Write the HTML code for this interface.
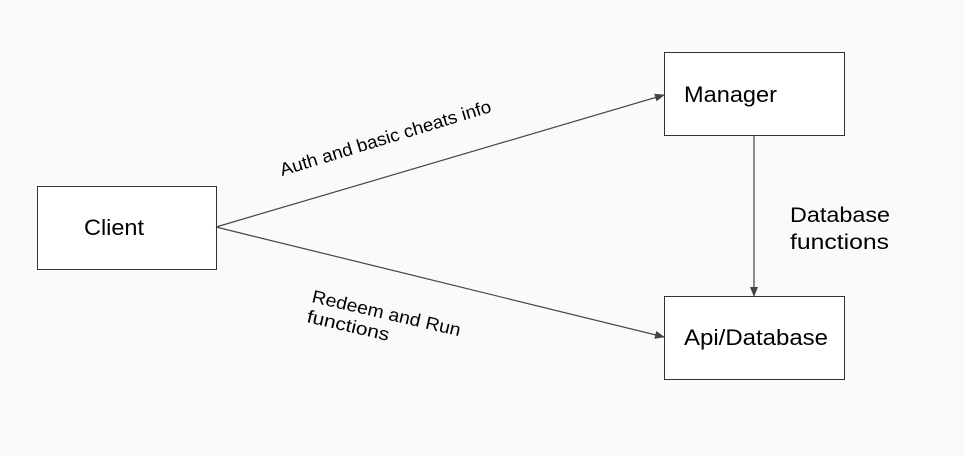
<!DOCTYPE html>
<html><head><style>
html,body{margin:0;padding:0;background:#fafafa;}
svg{display:block;}
text{font-family:"Liberation Sans",sans-serif;fill:#000;}
</style></head><body>
<svg width="964" height="456" viewBox="0 0 964 456" xmlns="http://www.w3.org/2000/svg">
<defs><marker id="a" markerWidth="10" markerHeight="8" refX="9" refY="4" orient="auto" markerUnits="userSpaceOnUse"><path d="M0,0 L10,4 L0,8 z" fill="#444"/></marker></defs>
<rect x="0" y="0" width="964" height="456" fill="#fafafa"/>
<rect x="37.5" y="186.5" width="179" height="83" fill="#fff" stroke="#333"/>
<rect x="664.5" y="52.5" width="180" height="83" fill="#fff" stroke="#333"/>
<rect x="664.5" y="296.5" width="180" height="83" fill="#fff" stroke="#333"/>
<text x="84" y="235" font-size="22" textLength="60" lengthAdjust="spacingAndGlyphs">Client</text>
<text x="684" y="102" font-size="22" textLength="93" lengthAdjust="spacingAndGlyphs">Manager</text>
<text x="684" y="345" font-size="22" textLength="144" lengthAdjust="spacingAndGlyphs">Api/Database</text>
<line x1="216" y1="227" x2="664" y2="95" stroke="#444" stroke-width="1.2" marker-end="url(#a)"/>
<line x1="216" y1="227" x2="664" y2="337" stroke="#444" stroke-width="1.2" marker-end="url(#a)"/>
<line x1="754" y1="135" x2="754" y2="296" stroke="#444" stroke-width="1.2" marker-end="url(#a)"/>
<text x="790" y="222" font-size="21" textLength="100" lengthAdjust="spacingAndGlyphs">Database</text>
<text x="790" y="249" font-size="21" textLength="99" lengthAdjust="spacingAndGlyphs">functions</text>
<text transform="translate(282,176) rotate(-17)" font-size="18" textLength="220" lengthAdjust="spacingAndGlyphs">Auth and basic cheats info</text>
<text transform="translate(311,302) rotate(13)" font-size="18" textLength="152" lengthAdjust="spacingAndGlyphs">Redeem and Run</text>
<text transform="translate(306,322) rotate(13)" font-size="18" textLength="84" lengthAdjust="spacingAndGlyphs">functions</text>
</svg>
</body></html>
